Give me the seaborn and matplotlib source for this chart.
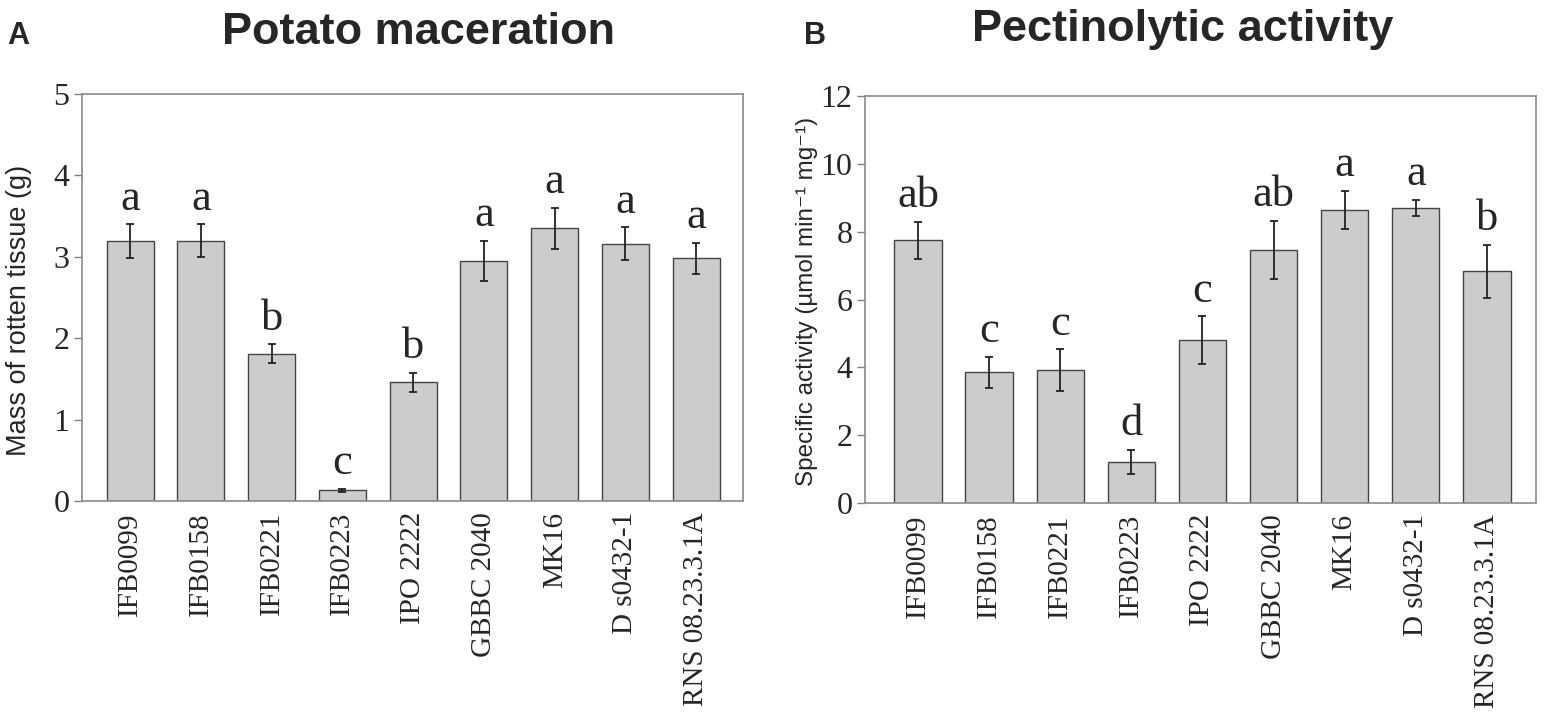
import numpy as np
import pandas as pd
import seaborn as sns
import matplotlib.pyplot as plt

# data
strains = ["IFB0099", "IFB0158", "IFB0221", "IFB0223", "IPO 2222",
           "GBBC 2040", "MK16", "D s0432-1", "RNS 08.23.3.1A"]

mass_mean = [3.19, 3.20, 1.81, 0.13, 1.46, 2.95, 3.35, 3.16, 2.98]
mass_err = [0.21, 0.20, 0.115, 0.02, 0.115, 0.25, 0.25, 0.20, 0.19]
mass_letters = ["a", "a", "b", "c", "b", "a", "a", "a", "a"]

pect_mean = [7.75, 3.85, 3.91, 1.22, 4.81, 7.47, 8.64, 8.70, 6.83]
pect_err = [0.54, 0.47, 0.62, 0.35, 0.70, 0.86, 0.56, 0.25, 0.78]
pect_letters = ["ab", "c", "c", "d", "c", "ab", "a", "a", "b"]

sns.set_style("white")
plt.rcParams["font.family"] = ["Liberation Serif", "DejaVu Serif"]

fig = plt.figure(figsize=(15.44, 7.28), dpi=100)
ax1 = fig.add_axes([0.0531, 0.3118, 0.4281, 0.5591])
ax2 = fig.add_axes([0.5602, 0.3090, 0.4346, 0.5590])

sans = ["Liberation Sans", "DejaVu Sans"]


def panel(ax, means, errs, letters, ylim, yticks, ylabel, ylabel_size, xlim, label_xy):
    df = pd.DataFrame({"strain": strains, "value": means})
    sns.barplot(data=df, x="strain", y="value", color="#cccccc",
                edgecolor="#444444", linewidth=1.0, width=0.665,
                saturation=1, errorbar=None, ax=ax)
    x = np.arange(len(strains))
    ax.errorbar(x, means, yerr=errs, fmt="none", ecolor="#222222",
                elinewidth=1.3, capsize=3, capthick=1.3)
    for xi, m, e, lab in zip(x, means, errs, letters):
        ax.annotate(lab, (xi, m + e), xytext=(0, 4), textcoords="offset points",
                    ha="center", va="bottom", fontsize=32)
    ax.set_ylim(*ylim)
    ax.set_xlim(*xlim)
    ax.set_yticks(yticks)
    ax.set_xlabel("")
    ax.set_ylabel(ylabel, family=sans, fontsize=ylabel_size)
    ax.yaxis.set_label_coords(*label_xy)
    ax.tick_params(axis="y", direction="out", length=6, width=1.0,
                   color="#808080", labelsize=23, pad=3, left=True)
    ax.tick_params(axis="x", length=0, labelsize=21, pad=8, labelrotation=90)
    for s in ax.spines.values():
        s.set_color("#8a8a8a")
        s.set_linewidth(1.2)


panel(ax1, mass_mean, mass_err, mass_letters, (0, 5), range(0, 6),
      "Mass of rotten tissue (g)", 19.5, (-0.68, 8.66), (-0.076, 0.469))
panel(ax2, pect_mean, pect_err, pect_letters, (0, 12), range(0, 13, 2),
      "Specific activity (µmol min⁻¹ mg⁻¹)", 17.5, (-0.745, 8.69), (-0.070, 0.496))

title_font = ["Liberation Sans Narrow", "Liberation Sans", "DejaVu Sans"]
fig.text(418 / 1544, 1 - 33 / 728, "Potato maceration", family=title_font,
         fontweight="bold", fontsize=32.5, ha="center", va="center")
fig.text(1183 / 1544, 1 - 30 / 728, "Pectinolytic activity", family=title_font,
         fontweight="bold", fontsize=32.5, ha="center", va="center")
fig.text(18 / 1544, 1 - 36 / 728, "A", family=title_font, fontweight="bold",
         fontsize=22, ha="center", va="center")
fig.text(815 / 1544, 1 - 36 / 728, "B", family=title_font, fontweight="bold",
         fontsize=22, ha="center", va="center")

fig.savefig("out.png", dpi=100)
